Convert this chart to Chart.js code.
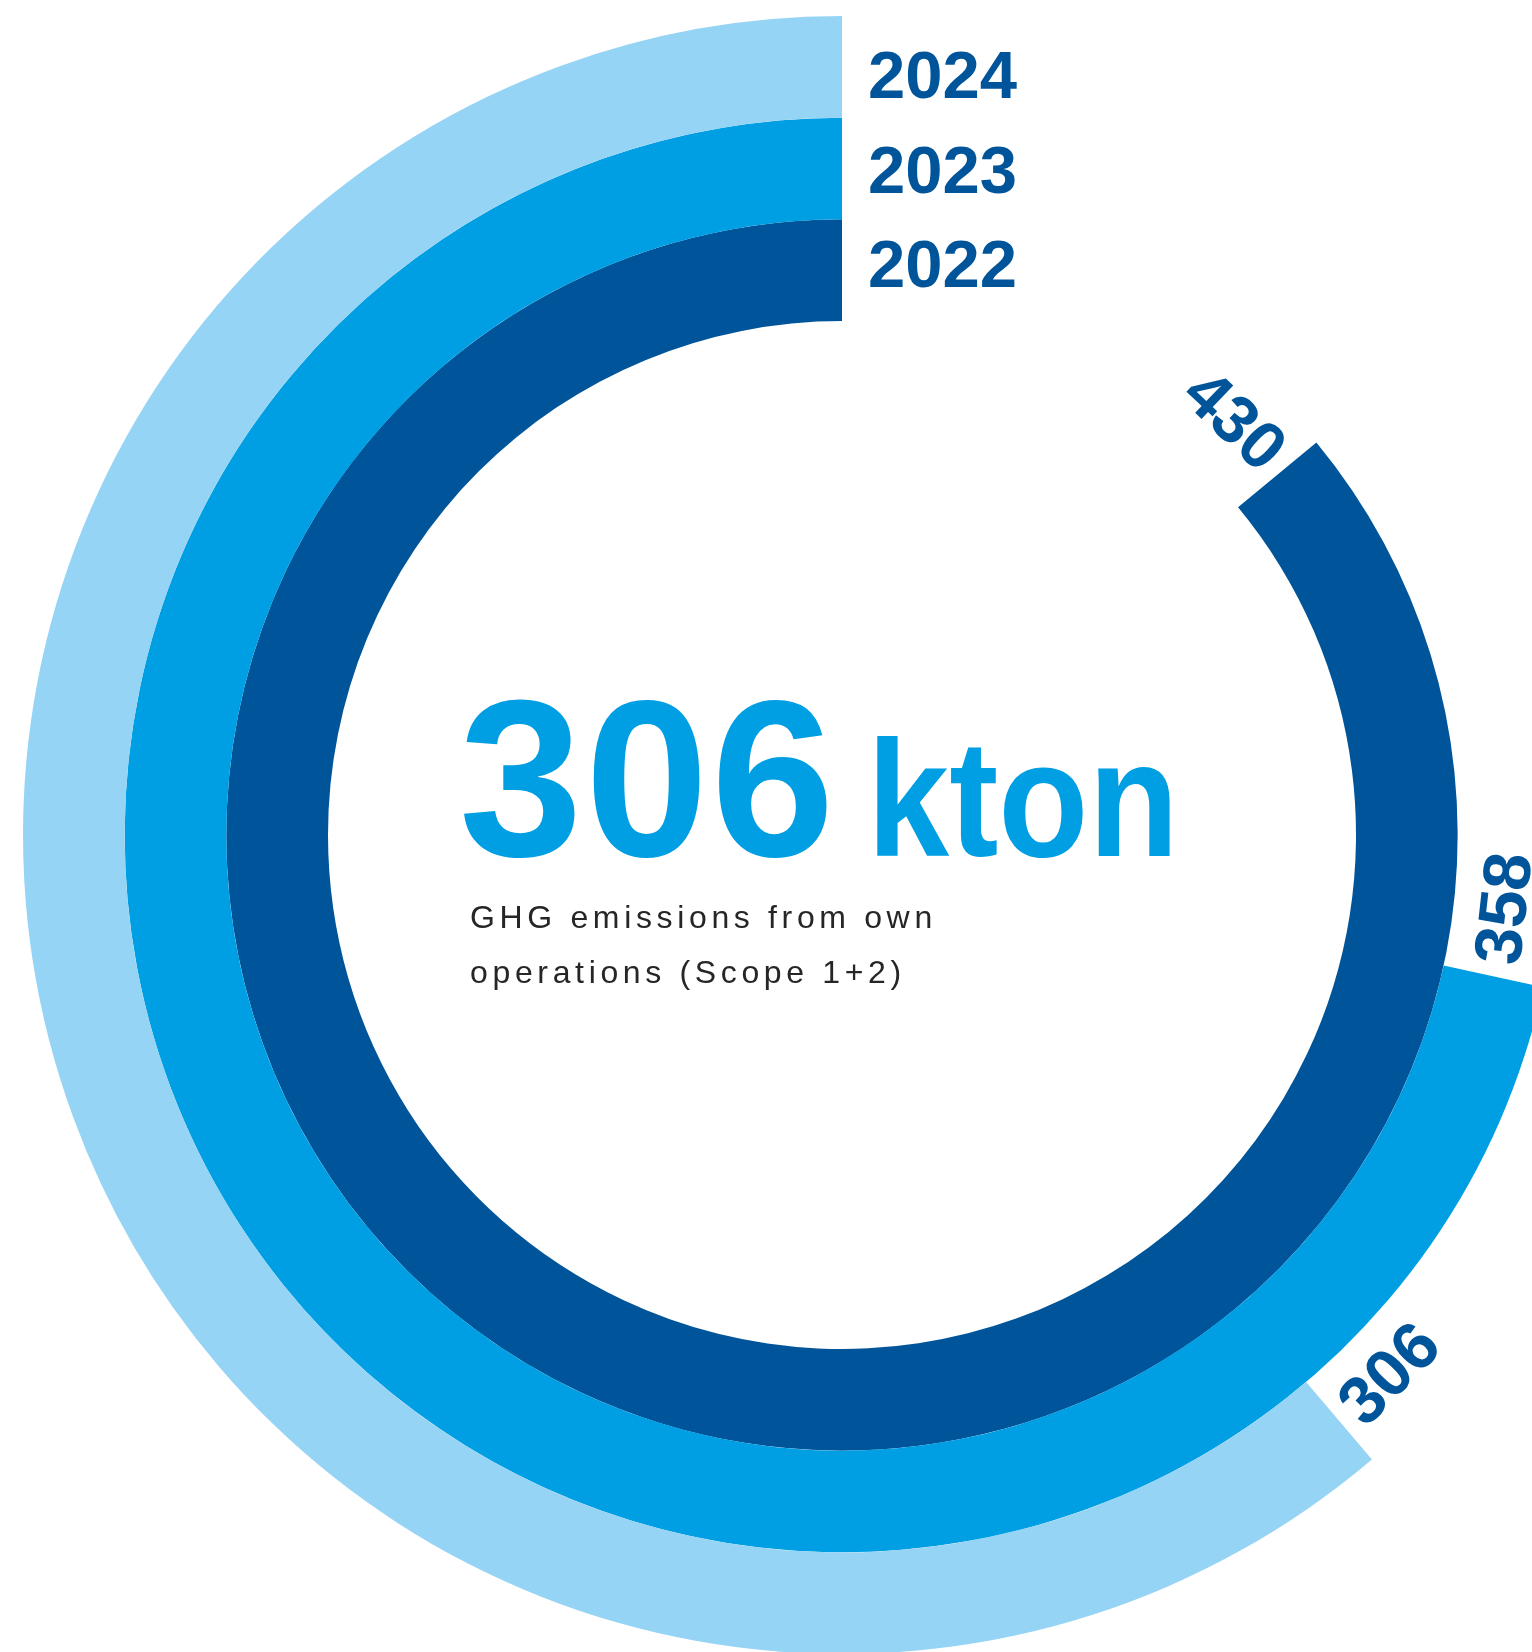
<!DOCTYPE html>
<html>
<head>
<meta charset="utf-8">
<title>GHG emissions from own operations</title>
<script src="https://cdn.jsdelivr.net/npm/chart.js@4/dist/chart.umd.min.js"></script>
<style>
  html, body { margin: 0; padding: 0; background: #ffffff; overflow: hidden; }
  #wrap { position: relative; width: 1532px; height: 1652px; }
</style>
</head>
<body>
<div id="wrap"><canvas id="chart"></canvas></div>
<script>
// Reporting years, outermost ring first
const years = ['2024', '2023', '2022'];
// Scope 1+2 emissions per year, kton CO2e
const emissions = [306, 358, 430];
// Value that corresponds to one full turn of a ring
const scaleMax = 500;
const ringColors = ['#96d4f5', '#009fe3', '#00559a'];
const labelColor = '#00559a';
const headlineColor = '#009fe3';
const headlineUnit = 'kton';
const captionLines = ['GHG emissions from own', 'operations (Scope 1+2)'];

// Most recent year drives the headline figure
const latestIdx = years.indexOf(String(Math.max(...years.map(Number))));
const headlineValue = emissions[latestIdx];

const FONT = '"Liberation Sans", Arial, Helvetica, sans-serif';

const datasets = years.map((yr, i) => ({
  label: yr,
  // first slice is the unused remainder, second slice is the emission arc
  data: [scaleMax - emissions[i], emissions[i]],
  backgroundColor: ['rgba(0,0,0,0)', ringColors[i]],
  hoverBackgroundColor: ['rgba(0,0,0,0)', ringColors[i]],
  borderWidth: 0
}));

const ringLabels = {
  id: 'ringLabels',
  afterDatasetsDraw(chart) {
    const ctx = chart.ctx;
    const metas = chart.data.datasets.map((ds, i) =>
      chart.getDatasetMeta(i).data[1].getProps(['x', 'y', 'startAngle', 'innerRadius', 'outerRadius'], true));
    const mids = metas.map(p => (p.innerRadius + p.outerRadius) / 2);
    const midRing = mids[Math.floor(mids.length / 2)];
    const cx = metas[0].x, cy = metas[0].y;

    ctx.save();
    ctx.fillStyle = labelColor;
    ctx.font = 'bold 67px ' + FONT;
    chart.data.datasets.forEach((ds, i) => {
      const p = metas[i];
      const rMid = mids[i];

      // year name beside the top end of each ring (stacked slightly tighter than the rings)
      ctx.textAlign = 'left';
      ctx.textBaseline = 'alphabetic';
      const yCenter = p.y - (midRing + (rMid - midRing) * 0.93);
      ctx.fillText(ds.label, p.x + 26, yCenter + 24);

      // value written along the ring, just before its open end
      const txt = String(ds.data[1]);
      const w = ctx.measureText(txt).width;
      const rText = rMid + 3;
      const phi = p.startAngle - (13 + w / 2) / rText;
      let rot = phi + Math.PI / 2;
      if (rot > Math.PI / 2) rot -= Math.PI;
      ctx.save();
      ctx.translate(p.x + rText * Math.cos(phi), p.y + rText * Math.sin(phi));
      ctx.rotate(rot);
      ctx.textAlign = 'center';
      ctx.textBaseline = 'middle';
      ctx.fillText(txt, 0, 0);
      ctx.restore();
    });

    // headline in the middle of the rings
    ctx.textAlign = 'left';
    ctx.textBaseline = 'alphabetic';
    ctx.fillStyle = headlineColor;
    ctx.font = 'bold 222px ' + FONT;
    ctx.letterSpacing = '2.5px';
    ctx.fillText(String(headlineValue), cx - 383, cy + 21);

    ctx.letterSpacing = '0px';
    ctx.font = 'bold 165px ' + FONT;
    ctx.save();
    ctx.translate(cx + 25, cy + 21);
    ctx.scale(0.895, 1);
    ctx.fillText(headlineUnit, 0, 0);
    ctx.restore();

    ctx.fillStyle = '#262626';
    ctx.font = '32px ' + FONT;
    ctx.letterSpacing = '4.65px';
    captionLines.forEach((line, k) => {
      ctx.fillText(line, cx - 372, cy + 93 + k * 55);
    });
    ctx.restore();
  }
};

new Chart(document.getElementById('chart'), {
  type: 'doughnut',
  data: { labels: ['', ''], datasets },
  options: {
    responsive: true,
    maintainAspectRatio: false,
    animation: false,
    events: [],
    radius: 819,
    cutout: (514 / 819 * 100) + '%',
    rotation: 0,
    circumference: 360,
    layout: { padding: { left: 152, right: 0, top: 18, bottom: 0 } },
    plugins: {
      legend: { display: false },
      tooltip: { enabled: false }
    }
  },
  plugins: [ringLabels]
});
</script>
</body>
</html>
